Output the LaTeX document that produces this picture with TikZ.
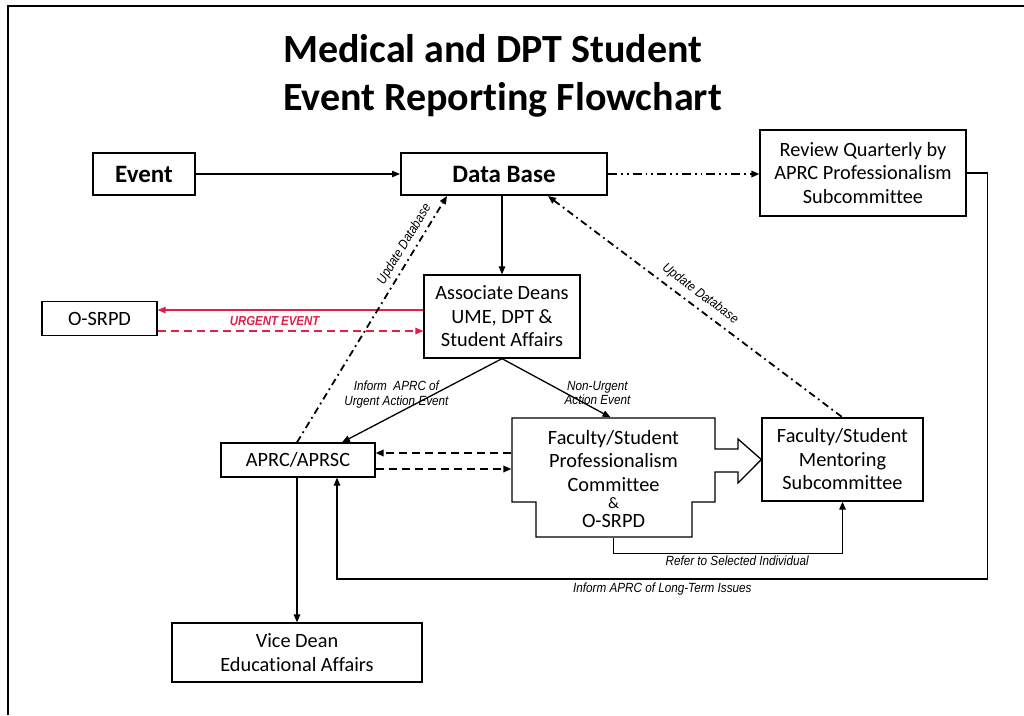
\documentclass[tikz,border=0pt]{standalone}
\usepackage{fontspec}
\setmainfont{Carlito}[Ligatures=NoCommon]
\newfontfamily\lblfont[FakeStretch=0.88]{Liberation Sans}
\usetikzlibrary{arrows.meta,calc}
\definecolor{urg}{RGB}{228,30,70}
\begin{document}
\begin{tikzpicture}[x=1pt,y=-1pt,
 box/.style={draw,line width=1.3pt,align=center,font=\fontsize{20.3}{23.5}\selectfont,inner sep=0pt},
 bbox/.style={box,line width=2pt,font=\fontsize{25}{30}\selectfont\bfseries},
 ttl/.style={anchor=base west,inner sep=0pt,font=\fontsize{40}{46}\selectfont\bfseries},
 arr/.style={-{Triangle[length=8pt,width=6.5pt]},line width=1.3pt},
 lbl/.style={font=\lblfont\itshape\fontsize{13.3}{14.5}\selectfont,inner sep=1pt,align=center},
 ddot/.style={dash pattern=on 7pt off 4pt on 1.8pt off 4pt,line width=1.8pt},
 dddot/.style={dash pattern=on 9pt off 4pt on 1.8pt off 4pt on 1.8pt off 4pt,line width=1.8pt},
 dsh/.style={dash pattern=on 8pt off 5pt,line width=1.8pt},
]
\useasboundingbox[fill=white] (0,0) rectangle (1024,715);
\draw[line width=2.5pt] (8,715) -- (8,6) -- (1024,6);

\node[ttl] (t1) at (283,62) {Medical and DPT Student};
\node[ttl] (t2) at (283,110) {Event Reporting Flowchart};

\node[bbox,minimum width=102pt,minimum height=42pt] (event) at (144,174) {Event};
\node[bbox,minimum width=206pt,minimum height=42pt] (db) at (504,174) {Data Base};
\node[box,minimum width=206pt,minimum height=86pt] (rev) at (863,173) {Review Quarterly by\\APRC Professionalism\\Subcommittee};
\node[box,minimum width=156pt,minimum height=83pt] (ad) at (502,316.5) {Associate Deans\\UME, DPT \&\\Student Affairs};
\node[box,minimum width=115pt,minimum height=34pt] (osrpd) at (99.5,318.5) {O-SRPD};
\node[box,minimum width=154pt,minimum height=34pt] (aprc) at (298,460) {APRC/APRSC};
\node[box,minimum width=161pt,minimum height=83pt] (ment) at (842.5,459.5) {Faculty/Student\\Mentoring\\Subcommittee};
\node[box,minimum width=250pt,minimum height=59pt] (vd) at (297,652.5) {Vice Dean\\Educational Affairs};

% professionalism committee: stepped outline merged with block arrow
\node[box,draw=none,minimum width=203pt,minimum height=119pt] (prof) at (613.5,477.5) {};
\draw[line width=1.3pt,line join=miter] (512,418) -- (715,418) -- (715,449) -- (738,449) -- (738,439) -- (ment.west) -- (738,483) -- (738,472) -- (715,472) -- (715,502) -- (692,502) -- (692,537) -- (536,537) -- (536,502) -- (512,502) -- cycle;
\node[align=center,inner sep=0pt,font=\fontsize{20.3}{23.5}\selectfont] (proft) at (613.5,479) {Faculty/Student\\Professionalism\\Committee\\[-6pt]{\fontsize{16}{16}\selectfont\&}\\[-5pt]O-SRPD};

% connectors
\draw[arr] (event) -- (db);
\draw[arr,dddot] (db.east) -- (db.east -| rev.west);
\draw[arr] (ad.north |- db.south) -- (ad.north);

\coordinate (r1) at ($(osrpd.east)+(0,-8.5)$);
\coordinate (r2) at ($(osrpd.east)+(0,12.5)$);
\draw[arr,urg] (r1 -| ad.west) -- node[pos=0.56,yshift=-11pt,font=\lblfont\bfseries\itshape\fontsize{13}{14}\selectfont,text=urg,inner sep=0pt]{URGENT EVENT} (r1);
\draw[arr,urg,dsh,line width=1.5pt] (r2) -- (r2 -| ad.west);

\draw[arr,ddot] (vd.north |- aprc.north) -- ($(db.south)+(-57,0)$) node[lbl,sloped,above=3pt,pos=0.78]{Update Database};
\draw[ddot,{Triangle[length=8pt,width=6.5pt]}-] ($(db.south)+(44,0)$) -- (ment.north) node[lbl,sloped,above=5pt,pos=0.49]{Update Database};

\draw[arr] (ad.south) -- ($(aprc.north)+(44,0)$) node[lbl,pos=0.66,above=4pt]{Inform \ APRC of\\Urgent Action Event};
\draw[arr] (ad.south) -- ($(prof.north)+(-3,0)$) node[lbl,pos=0.88,above=4pt]{Non-Urgent\\Action Event};

\coordinate (a1) at ($(aprc.east)+(0,-7)$);
\coordinate (a2) at ($(aprc.east)+(0,9)$);
\draw[arr,dsh] (a1 -| prof.west) -- (a1);
\draw[arr,dsh] (a2) -- (a2 -| prof.west);

\draw[arr] (vd.north |- aprc.south) -- (vd.north);

\draw[arr] (prof.south) -- ++(0,16) -| node[lbl,pos=0.27,below=1pt]{Refer to Selected Individual} (ment.south);
\draw[arr] (rev.east) -- ++(21,0) -- ++(0,406) -| node[lbl,pos=0.25,below=2pt]{Inform APRC of Long-Term Issues} ($(aprc.south)+(39,0)$);
\end{tikzpicture}
\end{document}
